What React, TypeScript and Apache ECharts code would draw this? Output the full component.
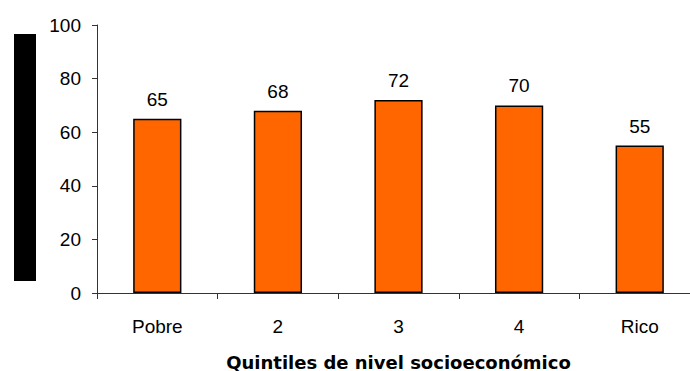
import React, { useEffect, useRef } from "react";
import * as echarts from "echarts";

const categories = ["Pobre", "2", "3", "4", "Rico"];
const values = [65, 68, 72, 70, 55];
const yTicks = { min: 0, max: 100, interval: 20 };
const xAxisTitle = "Quintiles de nivel socioeconómico";

export default function App() {
  const ref = useRef<HTMLDivElement>(null);
  useEffect(() => {
    document.body.style.margin = "0";
    if (!ref.current) return;
    const chart = echarts.init(ref.current, null, { renderer: "svg" });
    const font = "'Liberation Sans', Arial, sans-serif";
    chart.setOption({
      animation: false,
      textStyle: { fontFamily: font },
      grid: { left: 97, right: -10, top: 25, bottom: 78, outerBoundsMode: "none" },
      graphic: [
        {
          type: "rect",
          shape: { x: 14, y: 34, width: 22, height: 247 },
          style: { fill: "#000" },
        },
      ],
      xAxis: {
        type: "category",
        data: categories,
        name: xAxisTitle,
        nameLocation: "middle",
        nameGap: 60,
        nameTextStyle: {
          fontSize: 18,
          fontWeight: "bold",
          color: "#000",
          fontFamily: "'DejaVu Sans', sans-serif",
        },
        axisLine: { lineStyle: { color: "#333", width: 1 } },
        axisTick: { show: true, length: 6, lineStyle: { color: "#333" } },
        axisLabel: { fontSize: 19, color: "#000", margin: 24, fontFamily: font },
      },
      yAxis: {
        type: "value",
        min: yTicks.min,
        max: yTicks.max,
        interval: yTicks.interval,
        splitLine: { show: false },
        axisLine: { show: true, lineStyle: { color: "#333", width: 1 } },
        axisTick: { show: true, length: 5, lineStyle: { color: "#333" } },
        axisLabel: { fontSize: 19, color: "#000", margin: 16, fontFamily: font },
      },
      series: [
        {
          type: "bar",
          data: values,
          barWidth: "40%",
          itemStyle: { color: "#FF6600", borderColor: "#000", borderWidth: 1.5 },
          label: {
            show: true,
            position: "top",
            distance: 10,
            fontSize: 19,
            color: "#000",
            fontFamily: font,
          },
        },
      ],
    });
    return () => chart.dispose();
  }, []);
  return <div ref={ref} style={{ width: 690, height: 371 }} />;
}
